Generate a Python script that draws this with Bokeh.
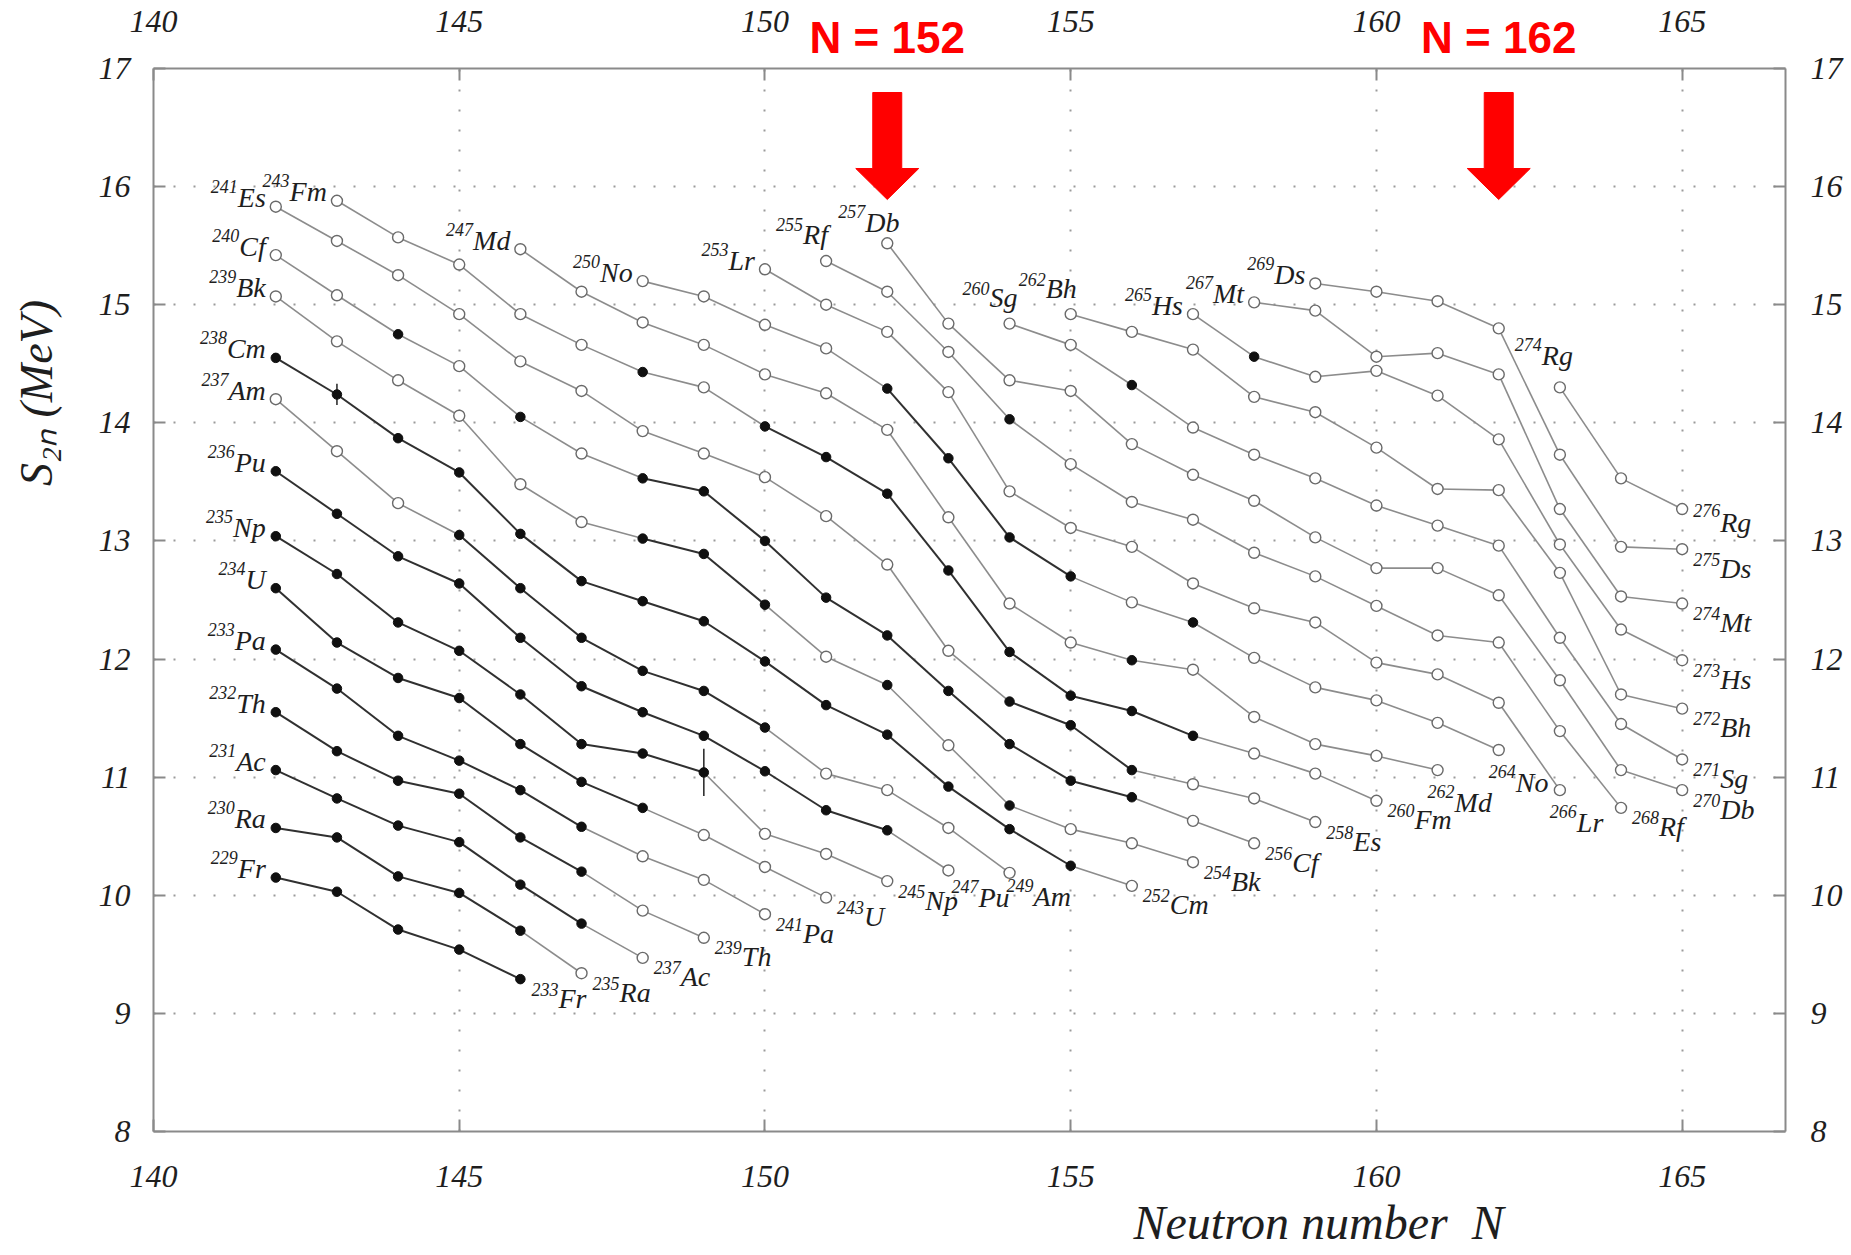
from bokeh.plotting import figure
from bokeh.models import LinearAxis, Range1d, FixedTicker, Title, ColumnDataSource
from bokeh.embed import file_html
from bokeh.resources import INLINE
from bokeh.core.properties import value

# ---------------- data ----------------
elements = ["Fr", "Ra", "Ac", "Th", "Pa", "U", "Np", "Pu", "Am", "Cm", "Bk", "Cf", "Es",
            "Fm", "Md", "No", "Lr", "Rf", "Db", "Sg", "Bh", "Hs", "Mt", "Ds", "Rg"]
proton_Z = [87, 88, 89, 90, 91, 92, 93, 94, 95, 96, 97, 98, 99,
            100, 101, 102, 103, 104, 105, 106, 107, 108, 109, 110, 111]
first_N = [142, 142, 142, 142, 142, 142, 142, 142, 142, 142, 142, 142, 142,
           143, 146, 148, 150, 151, 152, 154, 155, 157, 158, 159, 163]

s2n_Fr = [10.15, 10.03, 9.71, 9.54, 9.29]
s2n_Ra = [10.57, 10.49, 10.16, 10.02, 9.70, 9.34]
s2n_Ac = [11.06, 10.82, 10.59, 10.45, 10.09, 9.76, 9.47]
s2n_Th = [11.55, 11.22, 10.97, 10.86, 10.49, 10.20, 9.87, 9.64]
s2n_Pa = [12.08, 11.75, 11.35, 11.14, 10.89, 10.58, 10.33, 10.13, 9.84]
s2n_U = [12.60, 12.14, 11.84, 11.67, 11.28, 10.96, 10.74, 10.51, 10.24, 9.98]
s2n_Np = [13.04, 12.72, 12.31, 12.07, 11.70, 11.28, 11.20, 11.04, 10.52, 10.35, 10.12]
s2n_Pu = [13.59, 13.23, 12.87, 12.64, 12.18, 11.77, 11.55, 11.35, 11.05, 10.72, 10.55, 10.21]
s2n_Am = [14.20, 13.76, 13.32, 13.05, 12.60, 12.18, 11.90, 11.73, 11.42, 11.03, 10.89, 10.57, 10.19]
s2n_Cm = [14.55, 14.24, 13.87, 13.58, 13.06, 12.66, 12.49, 12.32, 11.98, 11.61, 11.36, 10.92,
          10.56, 10.25, 10.08]
s2n_Bk = [15.07, 14.69, 14.36, 14.06, 13.48, 13.16, 13.02, 12.89, 12.46, 12.02, 11.78, 11.27,
          10.76, 10.56, 10.44, 10.28]
s2n_Cf = [15.42, 15.08, 14.75, 14.48, 14.05, 13.74, 13.53, 13.42, 13.00, 12.52, 12.20, 11.73,
          11.28, 10.97, 10.83, 10.63, 10.44]
s2n_Es = [15.83, 15.54, 15.25, 14.92, 14.52, 14.27, 13.93, 13.74, 13.54, 13.21, 12.80, 12.07,
          11.64, 11.44, 11.06, 10.94, 10.82, 10.62]
s2n_Fm = [15.88, 15.57, 15.34, 14.92, 14.66, 14.43, 14.30, 13.97, 13.71, 13.40, 12.75, 12.06,
          11.69, 11.56, 11.35, 11.20, 11.03, 10.80]
s2n_Md = [15.47, 15.11, 14.85, 14.66, 14.41, 14.25, 13.94, 13.20, 12.47, 12.14, 11.99, 11.91,
          11.51, 11.28, 11.18, 11.06]
s2n_No = [15.20, 15.07, 14.83, 14.63, 14.29, 13.70, 13.03, 12.70, 12.48, 12.31, 12.01, 11.76,
          11.65, 11.46, 11.23]
s2n_Lr = [15.30, 15.00, 14.77, 14.26, 13.42, 13.11, 12.95, 12.64, 12.43, 12.31, 11.97, 11.87,
          11.63, 10.89]
s2n_Rf = [15.37, 15.11, 14.60, 14.03, 13.65, 13.33, 13.18, 12.90, 12.70, 12.45, 12.20, 12.14,
          11.39, 10.74]
s2n_Db = [15.52, 14.84, 14.36, 14.27, 13.82, 13.56, 13.34, 13.03, 12.77, 12.77, 12.54, 11.82,
          11.06, 10.89]
s2n_Sg = [14.84, 14.66, 14.32, 13.96, 13.73, 13.53, 13.30, 13.13, 12.96, 12.18, 11.45, 11.15]
s2n_Bh = [14.92, 14.77, 14.62, 14.22, 14.09, 13.79, 13.44, 13.43, 12.73, 11.70, 11.58]
s2n_Hs = [14.92, 14.56, 14.39, 14.44, 14.23, 13.86, 12.97, 12.25, 11.99]
s2n_Mt = [15.02, 14.95, 14.56, 14.59, 14.41, 13.27, 12.53, 12.47]
s2n_Ds = [15.18, 15.11, 15.03, 14.80, 13.73, 12.95, 12.93]
s2n_Rg = [14.30, 13.53, 13.27]

# 1 = measured (filled circle), 0 = systematics (open circle)
exp_Fr = [1, 1, 1, 1, 1]
exp_Ra = [1, 1, 1, 1, 1, 0]
exp_Ac = [1, 1, 1, 1, 1, 1, 0]
exp_Th = [1, 1, 1, 1, 1, 1, 0, 0]
exp_Pa = [1, 1, 1, 1, 1, 1, 0, 0, 0]
exp_U = [1, 1, 1, 1, 1, 1, 1, 0, 0, 0]
exp_Np = [1, 1, 1, 1, 1, 1, 1, 1, 0, 0, 0]
exp_Pu = [1, 1, 1, 1, 1, 1, 1, 1, 1, 1, 1, 0]
exp_Am = [0, 0, 0, 1, 1, 1, 1, 1, 1, 0, 0, 0, 0]
exp_Cm = [1, 1, 1, 1, 1, 1, 1, 1, 1, 1, 1, 1, 1, 1, 0]
exp_Bk = [0, 0, 0, 0, 0, 0, 1, 1, 1, 0, 1, 0, 1, 0, 0, 0]
exp_Cf = [0, 0, 1, 0, 1, 0, 1, 1, 1, 1, 1, 1, 1, 1, 1, 0, 0]
exp_Es = [0, 0, 0, 0, 0, 0, 0, 0, 0, 0, 0, 0, 1, 1, 1, 0, 0, 0]
exp_Fm = [0, 0, 0, 0, 0, 1, 0, 1, 1, 1, 1, 1, 1, 1, 1, 0, 0, 0]
exp_Md = [0, 0, 0, 0, 0, 0, 0, 0, 0, 0, 1, 0, 0, 0, 0, 0]
exp_No = [0, 0, 0, 0, 1, 1, 1, 1, 0, 1, 0, 0, 0, 0, 0]
exp_Lr = [0, 0, 0, 0, 0, 0, 0, 0, 0, 0, 0, 0, 0, 0]
exp_Rf = [0, 0, 0, 1, 0, 0, 0, 0, 0, 0, 0, 0, 0, 0]
exp_Db = [0, 0, 0, 0, 0, 0, 0, 0, 0, 0, 0, 0, 0, 0]
exp_Sg = [0, 0, 1, 0, 0, 0, 0, 0, 0, 0, 0, 0]
exp_Bh = [0, 0, 0, 0, 0, 0, 0, 0, 0, 0, 0]
exp_Hs = [0, 1, 0, 0, 0, 0, 0, 0, 0]
exp_Mt = [0, 0, 0, 0, 0, 0, 0, 0]
exp_Ds = [0, 0, 0, 0, 0, 0, 0]
exp_Rg = [0, 0, 0]

err_element = ["Cm", "Np"]
err_N = [143, 149]
err_size = [0.09, 0.20]

magic_N = [152, 162]
x_ticks = [140, 145, 150, 155, 160, 165]
y_ticks = [8, 9, 10, 11, 12, 13, 14, 15, 16, 17]
x_title = "Neutron number\u00a0 N"
y_title = "S\u2082\u2099 (MeV)"

s2n = {"Fr": s2n_Fr, "Ra": s2n_Ra, "Ac": s2n_Ac, "Th": s2n_Th, "Pa": s2n_Pa, "U": s2n_U,
       "Np": s2n_Np, "Pu": s2n_Pu, "Am": s2n_Am, "Cm": s2n_Cm, "Bk": s2n_Bk, "Cf": s2n_Cf,
       "Es": s2n_Es, "Fm": s2n_Fm, "Md": s2n_Md, "No": s2n_No, "Lr": s2n_Lr, "Rf": s2n_Rf,
       "Db": s2n_Db, "Sg": s2n_Sg, "Bh": s2n_Bh, "Hs": s2n_Hs, "Mt": s2n_Mt, "Ds": s2n_Ds,
       "Rg": s2n_Rg}
exp = {"Fr": exp_Fr, "Ra": exp_Ra, "Ac": exp_Ac, "Th": exp_Th, "Pa": exp_Pa, "U": exp_U,
       "Np": exp_Np, "Pu": exp_Pu, "Am": exp_Am, "Cm": exp_Cm, "Bk": exp_Bk, "Cf": exp_Cf,
       "Es": exp_Es, "Fm": exp_Fm, "Md": exp_Md, "No": exp_No, "Lr": exp_Lr, "Rf": exp_Rf,
       "Db": exp_Db, "Sg": exp_Sg, "Bh": exp_Bh, "Hs": exp_Hs, "Mt": exp_Mt, "Ds": exp_Ds,
       "Rg": exp_Rg}

# ---------------- layout ----------------
W, H = 1845, 1255
BL, BR, BT, BB = 153, 60, 68, 124
X0, X1 = 140, 166.69
Y0, Y1 = 8, 17
PPX = (W - BL - BR) / (X1 - X0)
PPY = (H - BT - BB) / (Y1 - Y0)

SERIF = "Liberation Serif"
INK = "#1e1e1e"
AX = "#8a8a8a"

p = figure(width=W, height=H, x_range=Range1d(X0, X1), y_range=Range1d(Y0, Y1),
           output_backend="svg", toolbar_location=None,
           min_border_left=BL, min_border_right=BR, min_border_top=BT, min_border_bottom=BB)
p.outline_line_color = None
p.background_fill_color = "white"
p.border_fill_color = "white"

top_axis = LinearAxis()
caption_axis = LinearAxis()
p.add_layout(top_axis, "above")
p.add_layout(caption_axis, "above")
p.add_layout(LinearAxis(), "right")


def style_axis(ax, ticks, standoff):
    ax.ticker = FixedTicker(ticks=ticks)
    ax.major_tick_in = 12
    ax.major_tick_out = 0
    ax.minor_tick_in = 0
    ax.minor_tick_out = 0
    ax.axis_line_color = AX
    ax.axis_line_width = 2
    ax.major_tick_line_color = AX
    ax.major_tick_line_width = 2
    ax.major_label_text_font = SERIF
    ax.major_label_text_font_style = "italic"
    ax.major_label_text_font_size = "32px"
    ax.major_label_text_color = INK
    ax.major_label_standoff = standoff


for ax in p.below:
    style_axis(ax, x_ticks, 34)
style_axis(top_axis, x_ticks, 37)
for ax in p.left:
    style_axis(ax, y_ticks, 23)
    # y title: leading em-spaces move the centred label up along the axis
    ax.axis_label = "\u2003" * 9 + y_title
    ax.axis_label_standoff = 34
    ax.axis_label_text_font = SERIF
    ax.axis_label_text_font_style = "italic"
    ax.axis_label_text_font_size = "46px"
    ax.axis_label_text_color = INK
for ax in p.right:
    style_axis(ax, y_ticks, 25)

# caption axis: carries the red "N = 152 / N = 162" texts above the frame
caption_axis.ticker = FixedTicker(ticks=magic_N)
caption_axis.major_label_overrides = {m: f"N = {m}" for m in magic_N}
caption_axis.axis_line_color = None
caption_axis.major_tick_line_color = None
caption_axis.minor_tick_line_color = None
caption_axis.major_label_text_font = "Liberation Sans"
caption_axis.major_label_text_font_style = "bold"
caption_axis.major_label_text_font_size = "44px"
caption_axis.major_label_text_color = "#ff0000"
caption_axis.major_label_standoff = -60

p.add_layout(Title(text=x_title, align="left", offset=1133 - BL, standoff=9,
                   text_font=SERIF, text_font_style="italic", text_font_size="48px",
                   text_color=INK), "below")

p.xgrid.ticker = FixedTicker(ticks=x_ticks)
p.ygrid.ticker = FixedTicker(ticks=y_ticks)
for g in (p.xgrid, p.ygrid):
    g.grid_line_color = "#9a9a9a"
    g.grid_line_width = 2
    g.grid_line_dash = "2 18"

# ---------------- arrows (magic numbers) ----------------
SHAFT_HW, HEAD_HW = 14.5, 31.5            # px
SHAFT_TOP, HEAD_BASE, TIP = 24, 100, 131  # px below top of frame
xs, ys = [], []
for m in magic_N:
    hs, hh = SHAFT_HW / PPX, HEAD_HW / PPX
    yt = Y1 - SHAFT_TOP / PPY
    yb = Y1 - HEAD_BASE / PPY
    ytip = Y1 - TIP / PPY
    xs.append([m - hs, m + hs, m + hs, m + hh, m, m - hh, m - hs])
    ys.append([yt, yt, yb, yb, ytip, yb, yb])
p.patches(xs, ys, fill_color="#ff0000", line_color="#ff0000", line_width=1)

# ---------------- series lines & points ----------------
dark = dict(x0=[], y0=[], x1=[], y1=[])
light = dict(x0=[], y0=[], x1=[], y1=[])
filled = dict(x=[], y=[])
hollow = dict(x=[], y=[])
for el, n0 in zip(elements, first_N):
    vals, fl = s2n[el], exp[el]
    ns = [n0 + i for i in range(len(vals))]
    for i in range(len(vals) - 1):
        tgt = dark if (fl[i] and fl[i + 1]) else light
        tgt["x0"].append(ns[i]); tgt["y0"].append(vals[i])
        tgt["x1"].append(ns[i + 1]); tgt["y1"].append(vals[i + 1])
    for n, v, f in zip(ns, vals, fl):
        tgt = filled if f else hollow
        tgt["x"].append(n); tgt["y"].append(v)

p.segment(x0="x0", y0="y0", x1="x1", y1="y1", source=ColumnDataSource(light),
          line_color="#8c8c8c", line_width=1.6)
p.segment(x0="x0", y0="y0", x1="x1", y1="y1", source=ColumnDataSource(dark),
          line_color="#303030", line_width=2)

eb = dict(x0=[], y0=[], x1=[], y1=[])
for el, n, e in zip(err_element, err_N, err_size):
    idx = elements.index(el)
    v = s2n[el][n - first_N[idx]]
    eb["x0"].append(n); eb["x1"].append(n)
    eb["y0"].append(v - e); eb["y1"].append(v + e)
p.segment(x0="x0", y0="y0", x1="x1", y1="y1", source=ColumnDataSource(eb),
          line_color="#303030", line_width=1.6)

p.scatter(x="x", y="y", source=ColumnDataSource(hollow), marker="circle", size=11,
          fill_color="white", line_color="#6a6a6a", line_width=1.4)
p.scatter(x="x", y="y", source=ColumnDataSource(filled), marker="circle", size=9.5,
          fill_color="#101010", line_color="#101010", line_width=1)

# ---------------- nuclide labels ----------------
TI_W = {'A': 611, 'B': 611, 'C': 667, 'D': 722, 'E': 611, 'F': 611, 'H': 722, 'L': 556,
        'M': 833, 'N': 667, 'P': 611, 'R': 611, 'S': 500, 'T': 556, 'U': 722,
        'a': 500, 'b': 500, 'c': 444, 'd': 500, 'e': 444, 'f': 278, 'g': 500, 'h': 500,
        'k': 444, 'm': 722, 'o': 500, 'p': 500, 'r': 389, 's': 389, 't': 278, 'u': 500}
FS_SYM, FS_MASS = 28, 18


def tw(s, fs):
    return sum(TI_W.get(c, 500) for c in s) / 1000.0 * fs


# (junction x offset, symbol y offset, mass y offset) in px, relative to the point
start_above = {"Db": (-22, -21, -32), "Rf": (-23, -27, -37), "Sg": (-20, -26, -35),
               "Bh": (-25, -26, -35), "Rg": (-18, -32, -43)}
# (mass left x offset, symbol y offset, mass y offset)
end_place = {"Pu": (3, 27, 16), "Am": (-3, 24, 13), "Md": (-10, 32, 21), "No": (-10, 32, 21),
             "Lr": (-10, 32, 21), "Rg": (11, 13, 1)}
START_LEFT = (-9, -20)
END_DEFAULT = (11, 19, 10)

mass_lab = dict(x=[], y=[], t=[], xo=[], yo=[])
sym_lab = dict(x=[], y=[], t=[], xo=[], yo=[])
for el, z, n0 in zip(elements, proton_Z, first_N):
    vals = s2n[el]
    if el in start_above:
        jx, sy, my = start_above[el]
    else:
        jx = -10 - tw(el, FS_SYM)
        sy, my = START_LEFT
    mass_lab["x"].append(n0); mass_lab["y"].append(vals[0]); mass_lab["t"].append(str(z + n0))
    mass_lab["xo"].append(jx); mass_lab["yo"].append(my)
    sym_lab["x"].append(n0); sym_lab["y"].append(vals[0]); sym_lab["t"].append(el)
    sym_lab["xo"].append(jx); sym_lab["yo"].append(sy)
    n1 = n0 + len(vals) - 1
    dx, sy, my = end_place.get(el, END_DEFAULT)
    jx = dx + tw(str(z + n1), FS_MASS)
    mass_lab["x"].append(n1); mass_lab["y"].append(vals[-1]); mass_lab["t"].append(str(z + n1))
    mass_lab["xo"].append(jx); mass_lab["yo"].append(my)
    sym_lab["x"].append(n1); sym_lab["y"].append(vals[-1]); sym_lab["t"].append(el)
    sym_lab["xo"].append(jx); sym_lab["yo"].append(sy)

p.text(x="x", y="y", text="t", x_offset="xo", y_offset="yo", source=ColumnDataSource(mass_lab),
       text_font=value(SERIF), text_font_style="italic", text_font_size=f"{FS_MASS}px",
       text_color=INK, text_align="right", text_baseline="alphabetic")
p.text(x="x", y="y", text="t", x_offset="xo", y_offset="yo", source=ColumnDataSource(sym_lab),
       text_font=value(SERIF), text_font_style="italic", text_font_size=f"{FS_SYM}px",
       text_color=INK, text_align="left", text_baseline="alphabetic")

open("out.html", "w").write(file_html(p, INLINE))
